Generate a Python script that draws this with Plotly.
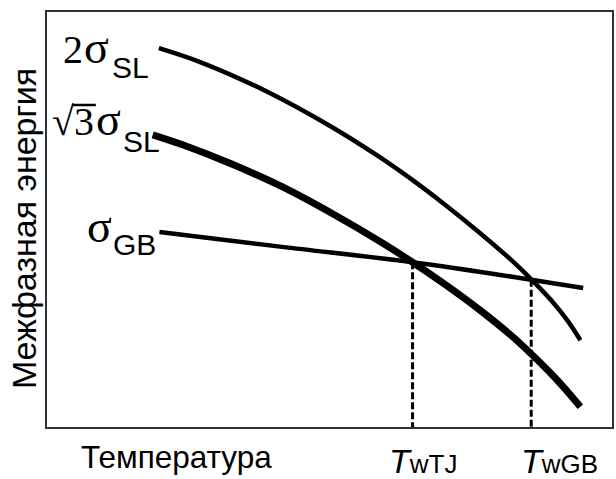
import plotly.graph_objects as go

# ---- data (arbitrary units) ----
T_2sl = [19.8, 27.0, 38.8, 50.4, 58.7, 64.6, 70.5, 76.4, 82.2, 85.7, 89.2, 92.2, 94.4]
E_2sl = [91.3, 88.0, 80.9, 72.3, 65.2, 59.6, 53.5, 47.0, 40.2, 35.6, 30.6, 25.5, 20.9]

T_r3sl = [18.7, 24.0, 32.8, 41.6, 50.4, 59.3, 64.7, 70.5, 76.4, 82.2, 85.7, 89.2, 91.7, 94.4]
E_r3sl = [70.4, 68.0, 63.3, 57.9, 51.5, 44.4, 39.7, 34.3, 28.4, 22.0, 17.6, 12.9, 9.2, 4.9]

T_gb = [19.9, 41.6, 64.7, 85.7, 94.9]
E_gb = [47.0, 43.4, 39.7, 35.5, 33.5]

T_w = [64.7, 85.7]          # wetting temperatures T_wTJ, T_wGB
E_w = [39.7, 35.5]
w_subs = ["wTJ", "wGB"]

x_title = "Температура"
y_title = "Межфазная энергия"

# ---- layout geometry ----
W, H = 616, 479
L, R, TOP, BOT = 47, 614, 12, 427

def pp(px, py):
    return (px - L) / (R - L), (BOT - py) / (BOT - TOP)

SANS = "Liberation Sans, Arial, sans-serif"
SERIF = "Liberation Serif, Times New Roman, serif"

fig = go.Figure()
fig.add_trace(go.Scatter(x=T_2sl, y=E_2sl, mode="lines", line=dict(color="black", width=4.5, shape="spline")))
fig.add_trace(go.Scatter(x=T_r3sl, y=E_r3sl, mode="lines", line=dict(color="black", width=7, shape="spline")))
fig.add_trace(go.Scatter(x=T_gb, y=E_gb, mode="lines", line=dict(color="black", width=4.5, shape="spline")))
for t, e in zip(T_w, E_w):
    fig.add_trace(go.Scatter(x=[t, t], y=[e, 0], mode="lines",
                             line=dict(color="black", width=3, dash="7px,3px")))

ann = []
def add(text, px, py, size, family, xa="left", ya="middle", angle=0):
    x, y = pp(px, py)
    ann.append(dict(text=text, x=x, y=y, xref="paper", yref="paper", showarrow=False,
                    xanchor=xa, yanchor=ya, borderpad=0, textangle=angle,
                    font=dict(size=size, family=family, color="black")))

# curve labels
add("2", 62, 49.5, 40, SERIF)
add("σ", 83, 47.5, 46, SERIF)
add("SL", 111, 67.6, 30, SANS)
add("√3", 51, 121.5, 40, SERIF)
add("σ", 95, 119.5, 46, SERIF)
add("SL", 122, 141.6, 30, SANS)
add("σ", 86, 226.5, 46, SERIF)
add("GB", 112, 244.6, 30, SANS)

# axis titles
add(x_title, 177, 456.6, 31.5, SANS, xa="center")
add(y_title, 24, 229, 34, SANS, xa="center", angle=-90)

# wetting temperature labels
T_left = [389, 522]
for tl, sub in zip(T_left, w_subs):
    add("<i>T</i><span style='font-size:26px'>" + sub + "</span>", tl, 461, 34, SANS)

shapes = []
x0, y0 = pp(72, 105)
x1, _ = pp(96, 105)
shapes.append(dict(type="line", xref="paper", yref="paper", x0=x0, x1=x1, y0=y0, y1=y0,
                   line=dict(color="black", width=2.5)))

axis = dict(range=[0, 100], showticklabels=False, ticks="", showgrid=False, zeroline=False,
            showline=True, mirror=True, linecolor="#333", linewidth=2, fixedrange=True)

fig.update_layout(width=W, height=H, margin=dict(l=L, r=W - R, t=TOP, b=H - BOT),
                  paper_bgcolor="white", plot_bgcolor="white", showlegend=False,
                  xaxis=axis, yaxis=axis, annotations=ann, shapes=shapes)

fig.write_html("out.html")
